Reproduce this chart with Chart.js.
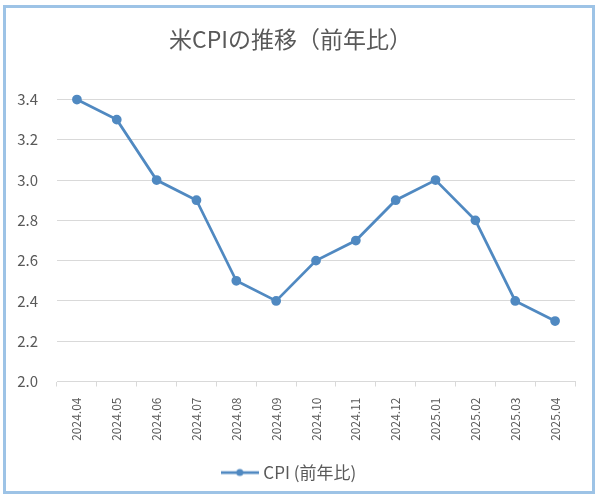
<!DOCTYPE html>
<html><head><meta charset="utf-8">
<script src="https://cdn.jsdelivr.net/npm/chart.js@4.4.1/dist/chart.umd.min.js"></script>
<style>
html,body{margin:0;padding:0;background:#fff;width:600px;height:499px;overflow:hidden;}
#frame{position:absolute;left:3px;top:5px;width:586px;height:483px;border:3px solid #9dc3e6;background:#fff;}
canvas{display:block;}
</style></head><body>
<div id="frame"><canvas id="c" width="586" height="483"></canvas></div>
<script>
const categories = ['2024.04','2024.05','2024.06','2024.07','2024.08','2024.09','2024.10','2024.11','2024.12','2025.01','2025.02','2025.03','2025.04'];
const cpiValues = [3.4, 3.3, 3.0, 2.9, 2.5, 2.4, 2.6, 2.7, 2.9, 3.0, 2.8, 2.4, 2.3];
const yTickValues = [2.0, 2.2, 2.4, 2.6, 2.8, 3.0, 3.2, 3.4];
const seriesName = 'CPI (前年比)';
const titleText = '米CPIの推移（前年比）';

const lineColor = '#5089c1';
const textColor = '#595959';
const gridColor = '#d9d9d9';
const fontFamily = '"Noto Sans CJK JP", "Noto Sans", sans-serif';

// legend marker: line with a dot
const marker = document.createElement('canvas');
marker.width = 38; marker.height = 10;
(function(){
  const m = marker.getContext('2d');
  m.strokeStyle = lineColor; m.lineWidth = 2.75;
  m.beginPath(); m.moveTo(0,5); m.lineTo(38,5); m.stroke();
  m.fillStyle = lineColor;
  m.beginPath(); m.arc(19,5,3.5,0,Math.PI*2); m.fill();
})();

new Chart(document.getElementById('c'), {
  type: 'line',
  data: {
    labels: categories,
    datasets: [{
      label: seriesName,
      data: cpiValues,
      borderColor: lineColor,
      backgroundColor: lineColor,
      borderWidth: 2.75,
      pointRadius: 3.5,
      pointBackgroundColor: lineColor,
      pointBorderColor: lineColor,
      tension: 0,
      fill: false,
      clip: false
    }]
  },
  options: {
    responsive: false,
    animation: false,
    devicePixelRatio: 1,
    layout: { padding: { left: 0, right: 17, top: 0, bottom: 0 } },
    plugins: {
      title: {
        display: true,
        text: titleText,
        color: textColor,
        font: { family: fontFamily, size: 23, weight: 'normal' },
        padding: { top: 17, bottom: 46.9 }
      },
      legend: {
        position: 'bottom',
        labels: {
          color: textColor,
          font: { family: fontFamily, size: 17 },
          usePointStyle: true,
          pointStyleWidth: 30,
          padding: 10,
          generateLabels: (chart) => [{
            text: seriesName,
            pointStyle: marker,
            fillStyle: lineColor,
            strokeStyle: lineColor,
            lineWidth: 0,
            hidden: false,
            datasetIndex: 0,
            fontColor: textColor
          }]
        }
      },
      tooltip: { enabled: false }
    },
    scales: {
      x: {
        type: 'category',
        offset: true,
        grid: { offset: true, drawOnChartArea: false, drawTicks: true, tickLength: 5, color: gridColor },
        border: { color: gridColor, width: 1 },
        ticks: {
          color: textColor,
          font: { family: fontFamily, size: 12 },
          minRotation: 90, maxRotation: 90,
          padding: 11,
          autoSkip: false
        },
        afterFit: (s) => { s.height = 72.5; }
      },
      y: {
        min: 2.0, max: 3.4,
        grid: { color: gridColor, drawTicks: false },
        border: { display: false },
        ticks: {
          color: textColor,
          font: { family: fontFamily, size: 15 },
          padding: 19,
          callback: (v) => Number(v).toFixed(1)
        },
        afterBuildTicks: (s) => { s.ticks = yTickValues.map(v => ({ value: v })); },
        afterFit: (s) => { s.width = 51; }
      }
    }
  }
});
</script>
</body></html>
